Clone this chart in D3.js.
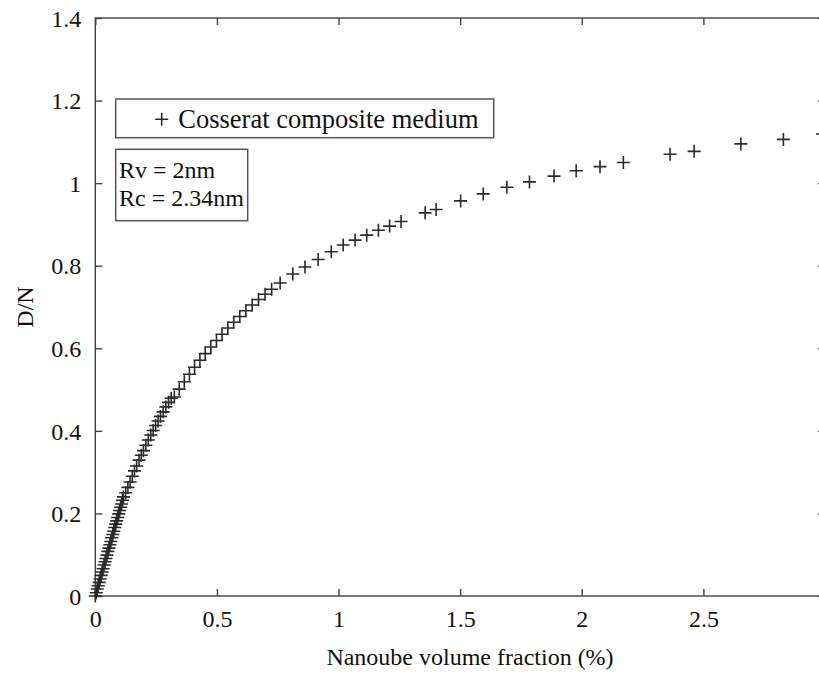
<!DOCTYPE html>
<html>
<head>
<meta charset="utf-8">
<script src="https://cdn.jsdelivr.net/npm/d3@7"></script>
<style>
  html, body { margin: 0; padding: 0; background: #fff; }
  svg { display: block; }
  text { font-family: "Liberation Serif", "Times New Roman", serif; fill: #111; }
</style>
</head>
<body>
<svg id="chart" width="819" height="682"></svg>
<script>
// ---- Data ----
const volumeFraction = [
  0, 0.004, 0.008, 0.012, 0.016, 0.020, 0.024, 0.028, 0.032, 0.036,
  0.040, 0.044, 0.048, 0.052, 0.056, 0.060, 0.064, 0.068, 0.072, 0.076,
  0.080, 0.084, 0.088, 0.092, 0.096, 0.100, 0.104, 0.108, 0.112, 0.116,
  0.125, 0.134, 0.143, 0.152, 0.161, 0.170, 0.180, 0.189, 0.198, 0.208,
  0.218, 0.228, 0.238, 0.248, 0.258, 0.268, 0.279, 0.290, 0.301, 0.312,
  0.325, 0.345, 0.366, 0.387, 0.408, 0.430, 0.452, 0.475, 0.498, 0.521,
  0.545, 0.569, 0.594, 0.619, 0.645, 0.671, 0.698,
  0.725, 0.760, 0.812, 0.862, 0.916, 0.970, 1.019, 1.068, 1.116, 1.164,
  1.210, 1.257,
  1.356, 1.401, 1.502, 1.595, 1.692, 1.785, 1.886, 1.977, 2.075, 2.171,
  2.363, 2.462, 2.654, 2.829, 2.990
];
const dnRatio = [
  0, 0.008, 0.017, 0.025, 0.033, 0.041, 0.050, 0.058, 0.066, 0.075,
  0.083, 0.091, 0.099, 0.108, 0.116, 0.124, 0.132, 0.141, 0.149, 0.157,
  0.166, 0.174, 0.182, 0.190, 0.199, 0.207, 0.215, 0.223, 0.232, 0.240,
  0.250, 0.263, 0.276, 0.290, 0.303, 0.315, 0.329, 0.341, 0.352, 0.365,
  0.378, 0.390, 0.401, 0.413, 0.424, 0.435, 0.446, 0.458, 0.469, 0.479,
  0.482, 0.501, 0.519, 0.537, 0.554, 0.571, 0.587, 0.603, 0.619, 0.634,
  0.649, 0.663, 0.677, 0.691, 0.705, 0.718, 0.731,
  0.743, 0.758, 0.780, 0.797, 0.815, 0.834, 0.850, 0.862, 0.874, 0.886,
  0.896, 0.907,
  0.928, 0.936, 0.957, 0.974, 0.990, 1.003, 1.017, 1.030, 1.040, 1.050,
  1.070, 1.077, 1.095, 1.106, 1.119
];
const xTicks = [0, 0.5, 1, 1.5, 2, 2.5, 3];
const xTickLabels = ["0", "0.5", "1", "1.5", "2", "2.5", "3"];
const yTicks = [0, 0.2, 0.4, 0.6, 0.8, 1, 1.2, 1.4];
const yTickLabels = ["0", "0.2", "0.4", "0.6", "0.8", "1", "1.2", "1.4"];
const seriesName = "Cosserat composite medium";
const annotationLines = ["Rv = 2nm", "Rc = 2.34nm"];
const xTitle = "Nanoube volume fraction (%)";
const yTitle = "D/N";

// ---- Layout ----
const svg = d3.select("#chart");
const plotLeft = 95.3, plotRight = 825, plotTop = 18, plotBottom = 596;
const axisColor = "#444";

const x = d3.scaleLinear().domain([0, 3]).range([plotLeft, plotRight]);
const y = d3.scaleLinear().domain([0, 1.4]).range([plotBottom, plotTop]);

// frame
svg.append("rect")
  .attr("x", plotLeft).attr("y", plotTop)
  .attr("width", plotRight - plotLeft).attr("height", plotBottom - plotTop)
  .attr("fill", "none").attr("stroke", axisColor).attr("stroke-width", 1.4);

const tickLen = 7;
const xAxisB = d3.axisBottom(x).tickValues(xTicks)
  .tickFormat((d, i) => xTickLabels[i]).tickSizeInner(-tickLen).tickSizeOuter(0).tickPadding(14);
const gxb = svg.append("g").attr("transform", `translate(0,${plotBottom})`).call(xAxisB);
const xAxisT = d3.axisTop(x).tickValues(xTicks).tickFormat("").tickSizeInner(-tickLen).tickSizeOuter(0);
const gxt = svg.append("g").attr("transform", `translate(0,${plotTop})`).call(xAxisT);
const yAxisL = d3.axisLeft(y).tickValues(yTicks)
  .tickFormat((d, i) => yTickLabels[i]).tickSizeInner(-tickLen).tickSizeOuter(0).tickPadding(14);
const gyl = svg.append("g").attr("transform", `translate(${plotLeft},0)`).call(yAxisL);
const yAxisR = d3.axisRight(y).tickValues(yTicks).tickFormat("").tickSizeInner(-tickLen).tickSizeOuter(0);
const gyr = svg.append("g").attr("transform", `translate(${plotRight},0)`).call(yAxisR);

[gxb, gxt, gyl, gyr].forEach(g => {
  g.select(".domain").remove();
  g.selectAll(".tick line").attr("stroke", axisColor).attr("stroke-width", 1.4);
  g.selectAll(".tick text")
    .style("font-family", '"Liberation Serif", "Times New Roman", serif')
    .style("font-size", "24px").attr("fill", "#111");
});
gxb.selectAll(".tick text").attr("dy", "0.71em").attr("y", 14);
gyl.selectAll(".tick text").attr("dy", "0.34em");

// axis titles
svg.append("text")
  .attr("x", 470).attr("y", 665)
  .attr("text-anchor", "middle")
  .style("font-size", "24px")
  .text(xTitle);
svg.append("text")
  .attr("transform", `translate(33,307) rotate(-90)`)
  .attr("text-anchor", "middle")
  .style("font-size", "24px")
  .text(yTitle);

// markers
const arm = 6.5;
const pts = volumeFraction.map((v, i) => [v, dnRatio[i]]);
svg.append("g")
  .selectAll("path")
  .data(pts)
  .join("path")
  .attr("d", d => {
    const px = x(d[0]), py = y(d[1]);
    return `M${px - arm},${py}H${px + arm}M${px},${py - arm}V${py + arm}`;
  })
  .attr("stroke", "#2a2a2a")
  .attr("stroke-width", 1.6)
  .attr("fill", "none");

// legend box
svg.append("rect")
  .attr("x", 115.7).attr("y", 99)
  .attr("width", 378).attr("height", 38.7)
  .attr("fill", "#fff").attr("stroke", "#555").attr("stroke-width", 1.5);
svg.append("path")
  .attr("d", `M${161.7 - arm},119.3H${161.7 + arm}M161.7,${119.3 - arm}V${119.3 + arm}`)
  .attr("stroke", "#2a2a2a").attr("stroke-width", 1.6);
svg.append("text")
  .attr("x", 178.3).attr("y", 128.3)
  .style("font-size", "26.5px")
  .text(seriesName);

// annotation box
svg.append("rect")
  .attr("x", 115.7).attr("y", 149.3)
  .attr("width", 132).attr("height", 71.4)
  .attr("fill", "#fff").attr("stroke", "#555").attr("stroke-width", 1.5);
svg.selectAll("text.anno")
  .data(annotationLines)
  .join("text")
  .attr("class", "anno")
  .attr("x", 119).attr("y", (d, i) => 178 + i * 27.7)
  .style("font-size", "24px")
  .text(d => d);
</script>
</body>
</html>
